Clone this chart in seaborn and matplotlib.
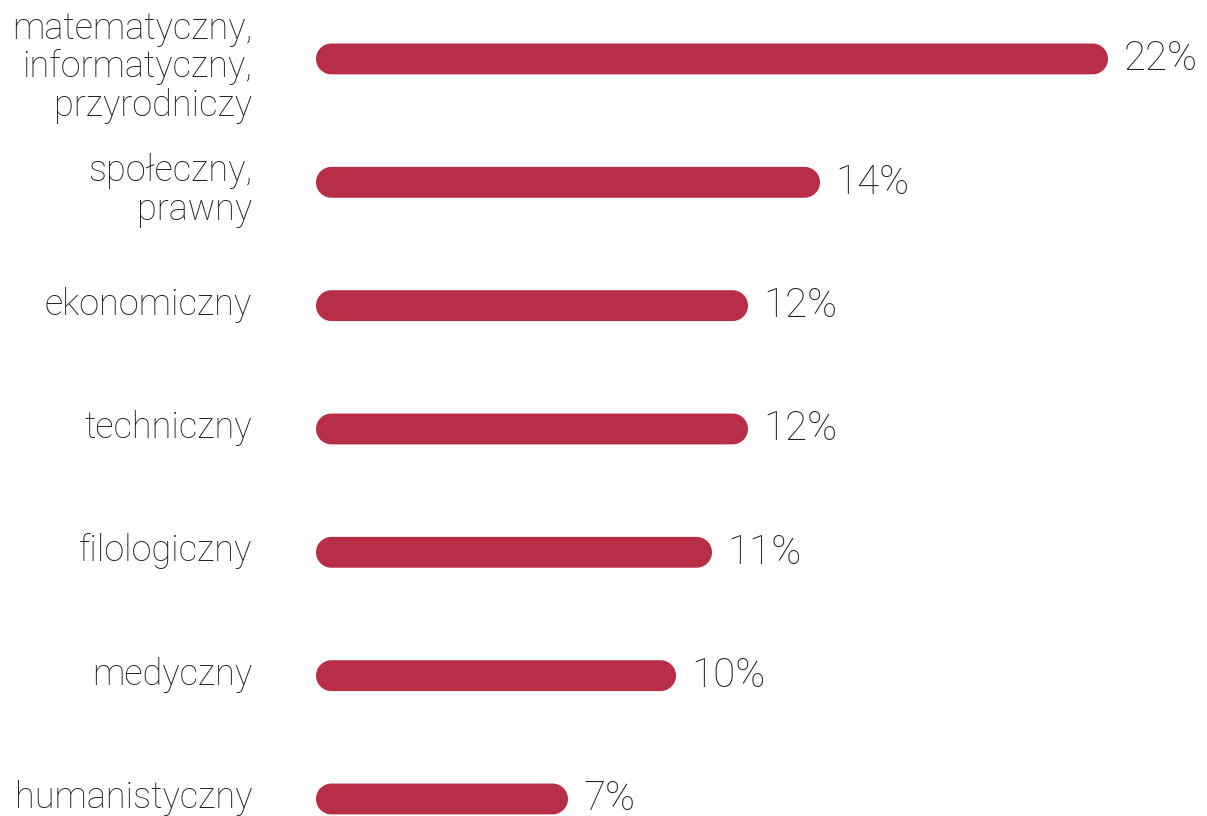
import seaborn as sns
import matplotlib.pyplot as plt
import matplotlib.transforms as mtransforms
import numpy as np
import pandas as pd
from matplotlib.patches import Polygon

# kierunki studiow i udzial procentowy
categories = ["matematyczny,\ninformatyczny,\nprzyrodniczy", "społeczny,\nprawny",
              "ekonomiczny", "techniczny", "filologiczny", "medyczny", "humanistyczny"]
values = [22, 14, 12, 12, 11, 10, 7]
labels = ["22%", "14%", "12%", "12%", "11%", "10%", "7%"]

df = pd.DataFrame({"kierunek": categories, "udzial": values})

sns.set_style("white")
plt.rcParams["font.family"] = ["Roboto", "DejaVu Sans"]
plt.rcParams["font.weight"] = "light"

W, H = 1207, 816
fig = plt.figure(figsize=(W / 100, H / 100), dpi=100)
ax = fig.add_axes([316 / W, 0, 882 / W, 1])

bar_color = "#B82E46"
sns.barplot(data=df, x="udzial", y="kierunek", orient="h", color=bar_color,
            width=0.25, saturation=1, ax=ax)

ax.set_xlim(0, 24.5)
ax.set_ylim(6.138, -0.478)

# slupki z zaokraglonymi koncami (polkola)
px_per_x = 882 / 24.5
px_per_y = 816 / (6.138 + 0.478)
t_right = np.linspace(-np.pi / 2, np.pi / 2, 40)
t_left = np.linspace(np.pi / 2, 3 * np.pi / 2, 40)
for p in list(ax.patches):
    x0, y0, w, h = p.get_x(), p.get_y(), p.get_width(), p.get_height()
    ry = h / 2
    rx = ry * px_per_y / px_per_x
    yc = y0 + ry
    right = np.column_stack([x0 + w - rx + rx * np.cos(t_right), yc + ry * np.sin(t_right)])
    left = np.column_stack([x0 + rx + rx * np.cos(t_left), yc + ry * np.sin(t_left)])
    p.remove()
    ax.add_patch(Polygon(np.vstack([right, left]), closed=True,
                         facecolor=bar_color, edgecolor="none"))

for i, (v, lab) in enumerate(zip(values, labels)):
    ax.annotate(lab, (v, i), xytext=(11, 0), textcoords="offset points",
                va="center", ha="left", fontsize=29, color="#222222",
                fontweight="light", annotation_clip=False)

ax.set_xlabel("")
ax.set_ylabel("")
ax.set_xticks([])
ax.tick_params(axis="y", length=0, pad=46)
for t in ax.get_yticklabels():
    t.set_fontsize(26)
    t.set_color("#222222")
    t.set_fontweight("light")
    t.set_linespacing(1.1)
    dy = 5 if "\n" not in t.get_text() else -3
    t.set_transform(t.get_transform() +
                    mtransforms.ScaledTranslation(0, dy / 100, fig.dpi_scale_trans))
sns.despine(ax=ax, left=True, bottom=True)

fig.savefig("out.png", dpi=100)
